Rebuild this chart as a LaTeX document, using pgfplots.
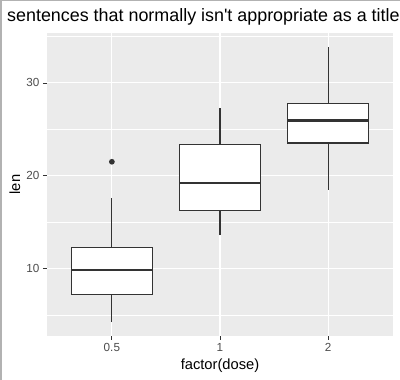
\documentclass[border=0pt]{standalone}
\usepackage{fontspec}
\setmainfont{Liberation Sans}[Ligatures=TeXOff]
\usepackage{pgfplots}
\pgfplotsset{compat=1.18}
\definecolor{panel}{HTML}{EBEBEB}
\definecolor{tickc}{HTML}{333333}
\definecolor{labc}{HTML}{4D4D4D}
\begin{document}
\begin{tikzpicture}
\useasboundingbox (0pt,0pt) rectangle (400pt,380pt);
\fill[white] (0pt,0pt) rectangle (400pt,380pt);
\draw[black!30, line width=1.5pt] (0.75pt,0pt) -- (0.75pt,379.25pt) -- (400pt,379.25pt);
\node[anchor=base west, inner sep=0pt, font=\fontsize{17.9}{20}\selectfont] at (7pt,358pt) {sentences that normally isn't appropriate as a title};
\begin{axis}[at={(47pt,44pt)}, anchor=south west, scale only axis, width=346pt, height=303pt,
  xmin=0.4, xmax=3.6, ymin=2.715, ymax=35.385,
  axis background/.style={fill=panel}, axis line style={draw=none},
  xtick={1,2,3}, xticklabels={0.5,1,2}, ytick={10,20,30}, minor ytick={5,15,25,35},
  grid=both, major grid style={white, line width=1.1pt}, minor grid style={white, line width=0.55pt},
  tick align=outside, tick pos=left, major tick length=4pt, minor tick length=0pt,
  tick style={tickc, line width=0.8pt},
  ticklabel style={font=\fontsize{11.7}{13}\selectfont, text=labc},
  /pgf/number format/assume math mode=true,
  xlabel={factor(dose)}, ylabel={len},
  label style={font=\fontsize{14.7}{16}\selectfont, text=black},
  xlabel style={at={(axis description cs:0.5,-0.099)}, anchor=center},
  ylabel style={at={(axis description cs:-0.0925,0.5)}, anchor=center},
  every axis plot/.append style={draw=tickc, line width=1.07pt},
]
% dose 0.5 : min 4.2, Q1 7.225, median 9.85, Q3 12.25, max 17.6, outlier 21.5
\addplot[mark=none] coordinates {(1,4.2) (1,7.225)};
\addplot[mark=none] coordinates {(1,12.25) (1,17.6)};
\addplot[fill=white, mark=none] coordinates {(0.625,7.225) (1.375,7.225) (1.375,12.25) (0.625,12.25)} -- cycle;
\addplot[mark=none, line width=2.1pt] coordinates {(0.625,9.85) (1.375,9.85)};
% dose 1 : min 13.6, Q1 16.25, median 19.25, Q3 23.375, max 27.3
\addplot[mark=none] coordinates {(2,13.6) (2,16.25)};
\addplot[mark=none] coordinates {(2,23.375) (2,27.3)};
\addplot[fill=white, mark=none] coordinates {(1.625,16.25) (2.375,16.25) (2.375,23.375) (1.625,23.375)} -- cycle;
\addplot[mark=none, line width=2.1pt] coordinates {(1.625,19.25) (2.375,19.25)};
% dose 2 : min 18.5, Q1 23.525, median 25.95, Q3 27.8, max 33.9
\addplot[mark=none] coordinates {(3,18.5) (3,23.525)};
\addplot[mark=none] coordinates {(3,27.8) (3,33.9)};
\addplot[fill=white, mark=none] coordinates {(2.625,23.525) (3.375,23.525) (3.375,27.8) (2.625,27.8)} -- cycle;
\addplot[mark=none, line width=2.1pt] coordinates {(2.625,25.95) (3.375,25.95)};
% outlier
\addplot[only marks, mark=*, mark size=2.3pt, mark options={fill=tickc, draw=none}] coordinates {(1,21.5)};
\end{axis}
\end{tikzpicture}
\end{document}
